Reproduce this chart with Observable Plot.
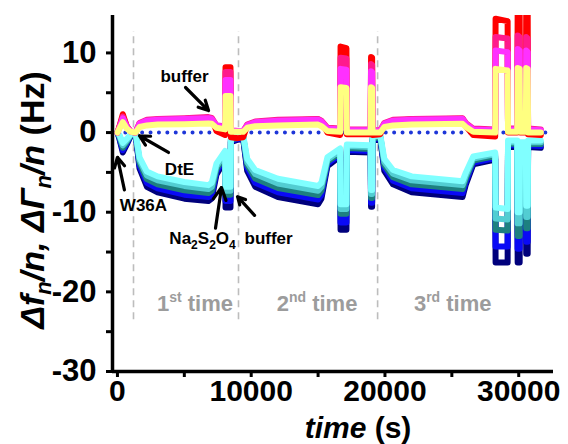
<!DOCTYPE html>
<html><head><meta charset="utf-8">
<script src="https://cdn.jsdelivr.net/npm/d3@7"></script>
<script src="https://cdn.jsdelivr.net/npm/@observablehq/plot@0.6"></script>
<style>
body{margin:0;background:#fff;}
#chart svg{display:block;}
</style></head><body><div id="chart"></div>
<script>
// time (s)
const T = [0,150,400,700,1000,1350,1650,2200,3000,5000,6800,7050,7400,8050,8080,8450,8480,9000,9400,9700,10300,12000,15000,15250,15700,16650,16680,17120,17150,18930,18960,19040,19070,19650,19950,20600,22000,25800,26050,26600,28240,28270,29170,29200,29890,29920,30070,30100,30530,30560,30670,30700,31650];
// frequency shifts Δf/n (Hz), from lowest (navy) to top (light cyan)
const fNavy = [0,-0.8,-2.5,-1.5,-0.4,-0.1,-4.5,-6.8,-7.5,-8.3,-8.6,-8.3,-5.3,-3.4,-9.4,-9.4,-1.2,-0.9,-0.8,-4.8,-6.8,-8.1,-9.0,-8.3,-4.2,-3.0,-12.2,-12.2,-2.4,-2.5,-9.3,-9.3,-1.0,-0.8,-4.8,-6.5,-7.5,-8.1,-6.5,-4.0,-3.4,-16.3,-16.3,-1.8,-1.8,-16.3,-16.3,-2.0,-2.0,-15.2,-15.2,-1.8,-1.9];
const fBlue = [0,-0.7,-2.2,-1.3,-0.35,-0.1,-4.15,-6.3,-7.0,-7.8,-8.1,-7.8,-4.95,-3.1,-8.6,-8.6,-1.05,-0.8,-0.7,-4.4,-6.3,-7.5,-8.4,-7.8,-3.9,-2.75,-11.3,-11.3,-2.2,-2.3,-8.8,-8.8,-0.85,-0.7,-4.4,-6.05,-7.0,-7.6,-6.1,-3.75,-3.2,-14.3,-14.3,-1.6,-1.6,-14.6,-14.6,-1.8,-1.8,-13.7,-13.7,-1.6,-1.7];
const fTeal = [0,-0.55,-1.9,-1.15,-0.3,-0.05,-3.8,-5.85,-6.5,-7.25,-7.6,-7.3,-4.6,-2.85,-7.8,-7.8,-0.9,-0.65,-0.55,-4.05,-5.75,-6.95,-7.85,-7.3,-3.65,-2.5,-10.2,-10.2,-1.95,-2.05,-8.2,-8.2,-0.7,-0.55,-4.05,-5.6,-6.5,-7.1,-5.75,-3.5,-2.95,-12.2,-12.3,-1.4,-1.4,-13.0,-13.0,-1.6,-1.6,-12.0,-12.0,-1.4,-1.45];
const fMid = [0,-0.4,-1.6,-1.0,-0.25,0,-3.45,-5.4,-6.0,-6.7,-7.1,-6.8,-4.25,-2.6,-7.3,-7.3,-0.75,-0.5,-0.4,-3.7,-5.2,-6.4,-7.3,-6.8,-3.4,-2.25,-9.6,-9.6,-1.7,-1.8,-7.7,-7.7,-0.55,-0.4,-3.7,-5.15,-6.0,-6.6,-5.4,-3.25,-2.7,-10.8,-10.9,-1.2,-1.2,-11.4,-11.4,-1.4,-1.4,-10.6,-10.6,-1.2,-1.2];
const fCyan = [0,-0.3,-1.3,-0.8,-0.2,0,-3.1,-4.9,-5.5,-6.2,-6.6,-6.3,-3.9,-2.3,-6.8,-6.8,-0.6,-0.4,-0.3,-3.3,-4.7,-5.8,-6.7,-6.3,-3.1,-2.0,-9.0,-9.0,-1.5,-1.6,-7.2,-7.2,-0.4,-0.3,-3.3,-4.7,-5.5,-6.1,-5.0,-3.0,-2.5,-9.4,-9.6,-1.0,-1.0,-10.0,-10.0,-1.2,-1.2,-9.2,-9.2,-1.0,-1.0];
// dissipation shifts ΔΓ/n (Hz)
const gRed = [0,0.8,2.3,0.8,0.1,0,1.1,1.5,1.6,1.7,1.85,1.75,0.2,-0.3,8.2,8.2,-0.6,-0.7,-0.6,0.9,1.3,1.5,1.65,1.4,0.0,-0.3,10.8,10.6,-0.2,-0.2,9.5,9.4,-0.3,-0.2,1.1,1.5,1.65,1.75,0.8,-0.3,-0.5,14.3,14.0,0,0,15.5,15.5,0,0,15.5,15.5,-0.2,-0.3];
const gPink = [0,0.7,2.0,0.8,0.1,0,1.2,1.6,1.7,1.8,1.95,1.85,0.9,0.8,7.6,7.6,0.3,0.2,0.2,1.0,1.4,1.6,1.7,1.5,0.6,0.5,9.4,9.3,0.4,0.4,8.6,8.5,0.3,0.3,1.2,1.6,1.7,1.8,1.2,0.5,0.4,12.0,11.8,0.5,0.5,12.2,12.0,0.5,0.5,12.0,11.8,0.5,0.4];
const gMagenta = [0,0.6,1.8,0.7,0.1,0,1.1,1.5,1.6,1.7,1.8,1.7,0.9,0.7,6.6,6.6,0.2,0.2,0.2,0.9,1.3,1.5,1.6,1.4,0.5,0.4,8.0,7.9,0.3,0.3,7.7,7.6,0.2,0.2,1.1,1.5,1.6,1.7,1.1,0.4,0.3,10.3,10.1,0.4,0.4,10.5,10.3,0.4,0.4,10.3,10.1,0.4,0.3];
const gYellow = [0,0.5,1.3,0.5,0.1,0,0.7,0.9,1.0,1.05,1.15,1.1,0.6,0.4,4.6,4.6,0.1,0.1,0.1,0.6,0.8,0.9,1.0,0.8,0.2,0.1,5.7,5.6,0.0,0.0,5.7,5.6,0.0,0.0,0.7,0.9,1.0,1.1,0.7,0.1,0.0,8.0,7.8,0.1,0.1,8.1,8.0,0.1,0.1,8.1,8.0,0.0,0.0];

const freqSeries = [fNavy, fBlue, fTeal, fMid, fCyan];
const freqColors = ["#00007c", "#0a0af5", "#1d8080", "#52cdd2", "#80ffff"];
const dissSeries = [gRed, gPink, gMagenta, gYellow];
const dissColors = ["#ff0000", "#ff1a8c", "#ff30ff", "#ffff80"];

// injection boundaries and annotations
const stepTimes = [1200, 9050, 19450];
const xTicks = [0, 10000, 20000, 30000];
const xMinor = [5000, 15000, 25000];
const yTicks = [-30, -20, -10, 0, 10];
const yMinor = [-25, -15, -5, 5];

const noteText = ["buffer", "DtE", "W36A", "buffer"];
const noteX = [5010, 4640, 1945, 11300];
const noteY = [6.4, -5.3, -9.8, -14.0];
const arrowX1 = [5090, 3815, 520, 7330, 10250];
const arrowY1 = [5.66, -2.5, -7.2, -12.0, -10.4];
const arrowX2 = [6810, 1645, 0, 7780, 8980];
const arrowY2 = [2.77, -0.4, -3.1, -6.9, -8.05];

const runNumber = ["1", "2", "3"];
const runSuffix = ["st", "nd", "rd"];
const runX = [5830, 14960, 25100];
const runY = -22.5;

const font = "Liberation Sans, Arial, Helvetica, sans-serif";

const marks = [
  Plot.ruleX(stepTimes, {y1: -23.5, y2: 12.7, stroke: "#bdbdbd", strokeWidth: 1.6, strokeDasharray: "7 5"}),
  Plot.ruleY([0], {x1: 0, x2: 32500, stroke: "#1e36d8", strokeWidth: 4, strokeDasharray: "0 8.4", strokeLinecap: "round"}),
];
freqSeries.forEach((s, i) => marks.push(Plot.line(T, {x: T, y: s, stroke: freqColors[i], strokeWidth: 6, clip: true})));
dissSeries.forEach((s, i) => marks.push(Plot.line(T, {x: T, y: s, stroke: dissColors[i], strokeWidth: 6, clip: true})));
marks.push(
  Plot.arrow(arrowX1, {x1: arrowX1, y1: arrowY1, x2: arrowX2, y2: arrowY2, stroke: "black", strokeWidth: 3.2, headLength: 13, headAngle: 55}),
  Plot.text(noteText, {x: noteX, y: noteY, text: noteText, fontSize: 17, fontWeight: "bold", fill: "black", lineAnchor: "bottom"}),
  Plot.ruleX([-370], {stroke: "black", strokeWidth: 3.5}),
  Plot.ruleY([-30], {stroke: "black", strokeWidth: 3.5}),
  Plot.axisX(xTicks, {tickSize: 6, tickPadding: 2, fontSize: 30, fontWeight: "bold", strokeWidth: 3, tickFormat: d => String(d), label: null}),
  Plot.axisX(xMinor, {tickSize: 6, tickFormat: () => "", strokeWidth: 3, label: null}),
  Plot.axisY(yTicks, {tickSize: 6, tickPadding: 10, fontSize: 31, fontWeight: "bold", strokeWidth: 3, tickFormat: d => d < 0 ? "-" + Math.abs(d) : String(d), label: null}),
  Plot.axisY(yMinor, {tickSize: 6, tickFormat: () => "", strokeWidth: 3, label: null})
);

const chart = Plot.plot({
  width: 568, height: 444,
  marginLeft: 112, marginRight: 15, marginTop: 15, marginBottom: 73,
  x: {domain: [-370, 32600]},
  y: {domain: [-30, 14.7]},
  style: {fontFamily: font, background: "white", color: "black", overflow: "visible"},
  marks
});

const sx = chart.scale("x"), sy = chart.scale("y");
const svg = d3.select(chart);

function rich(x, y, parts, attrs) {
  const t = svg.append("text").attr("x", x).attr("y", y).attr("font-family", font);
  Object.entries(attrs || {}).forEach(([k, v]) => t.attr(k, v));
  parts.forEach(p => {
    const s = t.append("tspan").text(p.text);
    if (p.dy) s.attr("dy", p.dy);
    if (p.size) s.attr("font-size", p.size);
    if (p.italic) s.attr("font-style", "italic");
  });
  return t;
}

// run labels
runNumber.forEach((n, i) => {
  rich(sx.apply(runX[i]), sy.apply(runY), [
    {text: n},
    {text: runSuffix[i], size: 14, dy: -9},
    {text: " time", dy: 9}
  ], {"font-size": 22, "font-weight": "bold", fill: "#9c9c9c", "text-anchor": "middle"});
});

// Na2S2O4 label
rich(sx.apply(6400), sy.apply(-14.0), [
  {text: "Na"}, {text: "2", size: 12, dy: 5}, {text: "S", dy: -5}, {text: "2", size: 12, dy: 5},
  {text: "O", dy: -5}, {text: "4", size: 12, dy: 5}
], {"font-size": 17, "font-weight": "bold", fill: "black", "text-anchor": "middle"});

// axis titles
rich(358, 438, [{text: "time", italic: true}, {text: " (s)"}],
  {"font-size": 30, "font-weight": "bold", "text-anchor": "middle"});
rich(0, 0, [
  {text: "Δf", italic: true}, {text: "n", italic: true, size: 22, dy: 7},
  {text: "/n, ΔΓ", italic: true, dy: -7}, {text: "n", italic: true, size: 22, dy: 7},
  {text: "/n", italic: true, dy: -7}, {text: " (Hz)"}
], {"font-size": 34, "font-weight": "bold", "text-anchor": "middle", transform: "translate(44,200) rotate(-90)"});

document.getElementById("chart").appendChild(chart);
</script>
</body></html>
